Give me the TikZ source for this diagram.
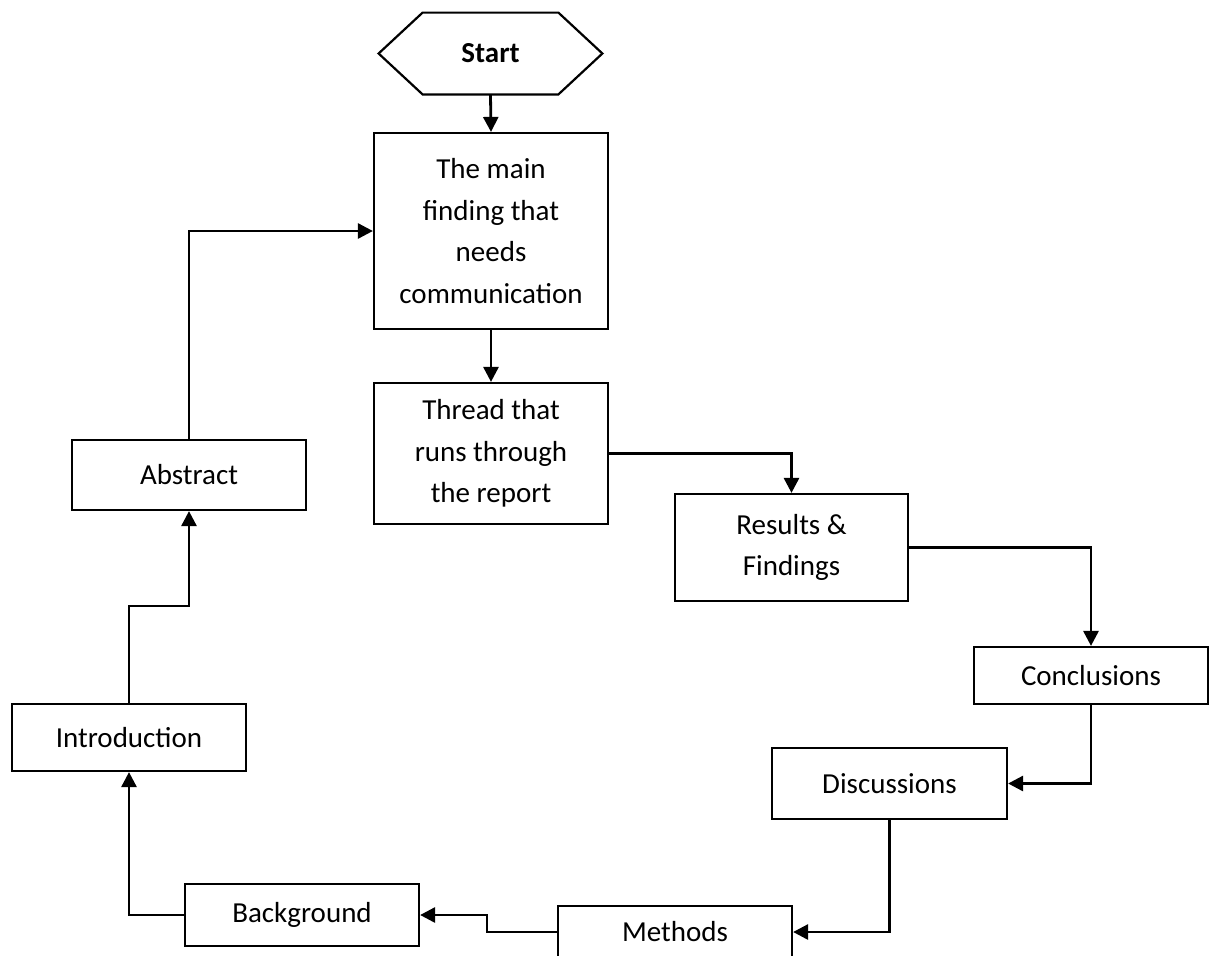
\documentclass[tikz,border=0pt]{standalone}
\usepackage{fontspec}
\setmainfont{Carlito}
\usetikzlibrary{arrows.meta}
\begin{document}
\begin{tikzpicture}[x=0.5pt,y=-0.5pt,
  txt/.style={font=\fontsize{14.5}{20.75}\selectfont},
  box/.style={draw, line width=1.1pt, rectangle, minimum width=117pt, align=center, inner sep=0pt, txt},
  conn/.style={line width=1.4pt, -{Triangle[length=7.5pt,width=7.5pt]}},
  hexline/.style={line width=1.1pt, line join=miter},
]
\clip (0,0) rectangle (1211,955);
% nodes
\node[inner sep=0pt, minimum width=111.5pt, minimum height=40.5pt, txt, font=\fontsize{14.5}{20.75}\selectfont\bfseries] (start) at (490.5,53.5) {Start};
\draw[hexline] (start.west) -- ([xshift=22pt]start.north west) -- ([xshift=-22pt]start.north east) -- (start.east) -- ([xshift=-22pt]start.south east) -- ([xshift=22pt]start.south west) -- cycle;
\node[box, minimum height=98pt] (main) at (491,231) {The main\\finding that\\needs\\communication};
\node[box, minimum height=70.5pt] (thread) at (491,453.5) {Thread that\\runs through\\the report};
\node[box, minimum width=116.5pt, minimum height=53.5pt] (results) at (791.5,547.5) {Results \&\\Findings};
\node[box, minimum height=28.5pt] (concl) at (1091,675.5) {Conclusions};
\node[box, minimum width=117.5pt, minimum height=35.5pt] (disc) at (889.5,783.5) {Discussions};
\node[box, minimum height=26pt] (methods) at (675,932) {Methods};
\node[box, minimum height=31pt] (backg) at (302,915) {Background};
\node[box, minimum height=33.5pt] (intro) at (129,737.5) {Introduction};
\node[box, minimum height=35pt] (abstract) at (189,475) {Abstract};
% connectors
\draw[conn] (start.south) -- (main.north);
\draw[conn] (main.south) -- (thread.north);
\draw[conn] (thread.east) -| (results.north);
\draw[conn] (results.east) -| (concl.north);
\draw[conn] (concl.south) |- (disc.east);
\draw[conn] (disc.south) |- (methods.east);
\draw[conn] (methods.west) -- ++(-70,0) |- (backg.east);
\draw[conn] (backg.west) -| (intro.south);
\draw[conn] (intro.north) -- ++(0,-97) -| (abstract.south);
\draw[conn] (abstract.north) |- (main.west);
\end{tikzpicture}
\end{document}
